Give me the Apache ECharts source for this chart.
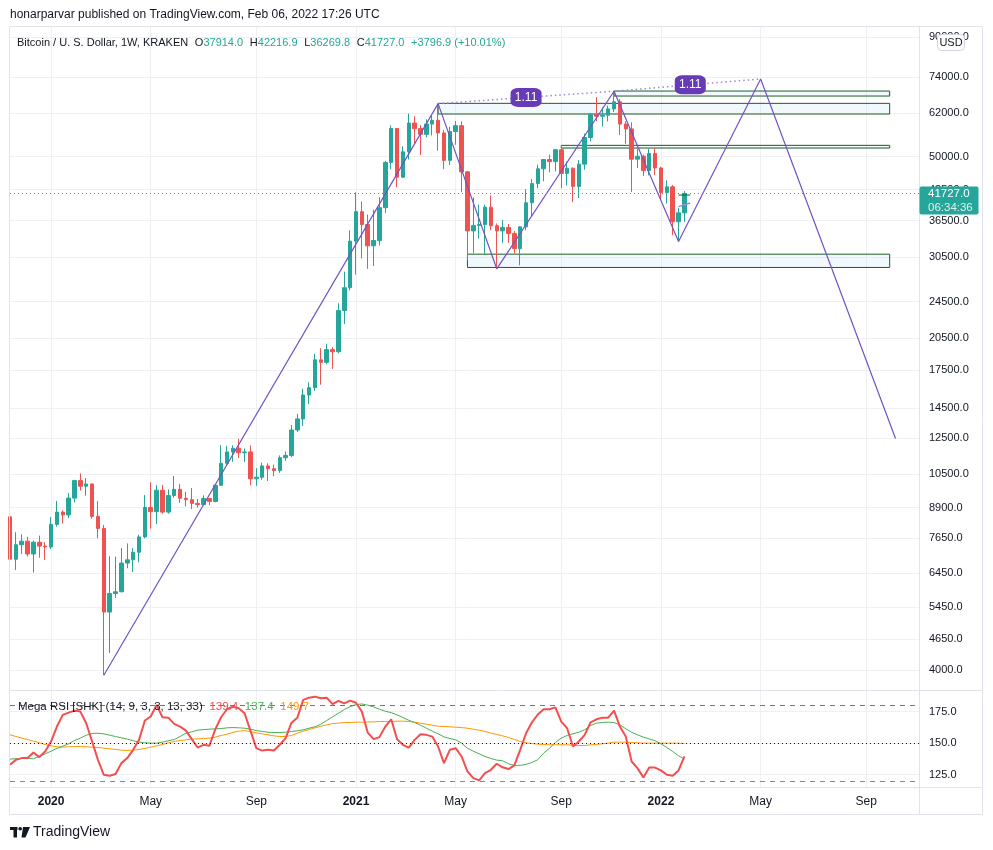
<!DOCTYPE html>
<html>
<head>
<meta charset="utf-8">
<script src="https://cdn.jsdelivr.net/npm/echarts@6/dist/echarts.min.js"></script>
<style>
html, body { margin: 0; padding: 0; background: #fff; }
#chart { width: 993px; height: 850px; }
</style>
</head>
<body>
<div id="chart"></div>
<script>
// weekly bars, Monday open, plus empty weeks on the right for the projection
const firstWeek = Date.UTC(2019, 10, 18);
const weekCount = 156;
const weeks = [];
for (let i = 0; i < weekCount; i++) {
  weeks.push(new Date(firstWeek + i * 7 * 864e5).toISOString().slice(0, 10));
}

const opens = [8500, 6900, 7410, 7540, 7080, 7500, 7360, 7330, 8190, 8700,
  8580, 9320, 10160, 9880, 9990, 8520, 8030, 5320, 5830, 5880,
  6770, 6880, 7140, 7700, 8900, 8720, 9690, 8700, 9440, 9730,
  9310, 9250, 9080, 9030, 9300, 9170, 9930, 11060, 11700, 11910,
  11650, 11700, 10250, 10330, 10920, 10770, 10670, 11370, 11500, 13030,
  13760, 15480, 16050, 18400, 18180, 19350, 19150, 23460, 26240, 33000,
  38150, 35800, 32250, 33100, 38900, 48600, 57450, 45200, 51200, 59000,
  57400, 55800, 58700, 59800, 56200, 49100, 56600, 58250, 46400, 34700,
  35650, 35800, 39000, 35600, 34700, 35300, 34250, 31800, 35400, 39850,
  43800, 47100, 49300, 48800, 51750, 46050, 47250, 43200, 48200, 54950,
  61500, 61000, 61300, 63250, 65500, 58700, 57300, 49400, 50100, 46700,
  50800, 47300, 41900, 43100, 36300, 37914];
const highs = [8600, 7880, 7800, 7700, 7560, 7750, 7500, 8490, 9190, 8780,
  9550, 10200, 10520, 10290, 10020, 9190, 8170, 7000, 6990, 7290,
  7460, 7290, 7780, 9460, 10080, 9950, 9950, 9730, 10390, 10000,
  9620, 9800, 9280, 9450, 9330, 9950, 12100, 12050, 12080, 12480,
  11900, 12080, 10800, 11100, 11060, 10990, 11500, 11720, 13350, 14100,
  15970, 16480, 18950, 19480, 19920, 19600, 24300, 28400, 34800, 41950,
  40100, 37600, 38500, 40950, 49000, 58350, 57500, 52600, 61800, 61000,
  58400, 60100, 61200, 64900, 57000, 57900, 59600, 59500, 46600, 40900,
  39500, 39500, 41300, 36000, 36600, 35900, 34700, 35500, 42600, 44800,
  48100, 49400, 50500, 51900, 52900, 48800, 47400, 49200, 56000, 62000,
  67000, 63700, 64300, 69000, 66400, 59500, 59200, 51900, 50500, 51900,
  52100, 47600, 44500, 43500, 38900, 42216.9];
const lows = [6790, 6540, 7080, 7000, 6460, 6950, 6880, 7250, 8100, 8220,
  8450, 9130, 9670, 9430, 8420, 7650, 3900, 4350, 5700, 5860,
  6600, 6480, 6800, 7650, 8020, 8200, 8630, 8630, 9340, 9100,
  8950, 8830, 8900, 9000, 9000, 9130, 9900, 10950, 11150, 11350,
  11130, 9930, 9900, 10200, 10140, 10380, 10550, 11200, 11400, 12900,
  13300, 14800, 15800, 16280, 18000, 17600, 19000, 21960, 25900, 28000,
  30300, 28800, 29200, 32300, 37900, 47000, 43000, 45000, 49300, 53200,
  50400, 55000, 55500, 51500, 47000, 48000, 53000, 42000, 30000, 31100,
  33400, 31000, 34800, 28800, 32700, 32700, 31100, 29300, 34800, 37300,
  42800, 44300, 46300, 46500, 42800, 43400, 40000, 40800, 46900, 53900,
  59600, 58000, 59500, 62300, 55600, 53300, 42000, 47300, 45500, 45600,
  45700, 40500, 39700, 34000, 32950, 36269.8];
const closes = [6900, 7410, 7540, 7080, 7500, 7360, 7330, 8190, 8700, 8580,
  9320, 10160, 9880, 9990, 8520, 8030, 5320, 5830, 5880, 6770,
  6880, 7140, 7700, 8900, 8720, 9690, 8700, 9440, 9730, 9310,
  9250, 9080, 9030, 9300, 9170, 9930, 11060, 11700, 11910, 11650,
  11700, 10250, 10330, 10920, 10770, 10670, 11370, 11500, 13030, 13760,
  15480, 16050, 18400, 18180, 19350, 19150, 23460, 26240, 33000, 38150,
  35800, 32250, 33100, 38900, 48600, 57450, 45200, 51200, 59000, 57400,
  55800, 58700, 59800, 56200, 49100, 56600, 58250, 46400, 34700, 35650,
  35800, 39000, 35600, 34700, 35300, 34250, 31800, 35400, 39850, 43800,
  47100, 49300, 48800, 51750, 46050, 47250, 43200, 48200, 54950, 61500,
  61000, 61300, 63250, 65500, 58700, 57300, 49400, 50100, 46700, 50800,
  47300, 41900, 43100, 36300, 37930.1, 41727];

const rsiRed = [132.8, 136.7, 138.1, 138.1, 142.5, 138.9, 143.3, 151.3, 163.2, 172.5,
  174.3, 175.9, 175.1, 165.8, 151.3, 136.7, 124.8, 124.1, 125.4, 134.1,
  138.1, 144.7, 152.6, 168.0, 171.2, 180.4, 170.6, 170.3, 165.3, 163.2,
  160.0, 153.2, 146.5, 148.7, 147.9, 161.0, 170.6, 177.0, 179.0, 177.8,
  173.8, 160.0, 146.0, 144.1, 144.7, 144.1, 148.7, 154.0, 166.3, 170.3,
  184.4, 186.2, 187.0, 185.7, 186.2, 181.0, 183.6, 181.7, 183.8, 182.2,
  175.1, 158.4, 153.2, 154.8, 163.2, 169.0, 153.2, 148.7, 146.5, 152.6,
  157.1, 156.6, 155.2, 147.3, 134.1, 144.7, 146.0, 139.4, 127.5, 122.2,
  120.4, 126.2, 128.8, 133.6, 130.8, 129.4, 132.3, 144.7, 157.9, 166.6,
  172.8, 177.0, 177.0, 178.5, 167.1, 161.9, 147.3, 151.3, 156.6, 166.6,
  169.0, 170.3, 170.3, 175.9, 163.2, 155.2, 135.4, 130.1, 122.7, 130.6,
  130.6, 128.3, 124.8, 124.1, 128.3, 139.4];
const rsiGreen = [137.3, 137.6, 137.8, 137.8, 137.6, 139.4, 141.5, 143.6, 145.8, 147.6,
  149.5, 152.1, 154.0, 156.3, 157.7, 157.9, 157.4, 156.3, 155.3, 154.2,
  153.2, 151.9, 150.8, 150.3, 150.0, 150.0, 150.8, 151.9, 152.9, 155.3,
  157.9, 159.0, 160.3, 160.8, 161.1, 161.4, 161.6, 162.2, 162.4, 162.2,
  161.9, 161.1, 160.0, 159.3, 158.7, 158.5, 158.5, 158.7, 159.3, 159.8,
  160.6, 161.9, 163.0, 165.1, 168.0, 170.9, 173.8, 176.7, 179.1, 180.7,
  181.2, 180.2, 178.8, 177.0, 175.4, 174.3, 172.5, 170.4, 168.2, 166.4,
  164.3, 161.9, 159.5, 157.4, 155.0, 153.7, 152.6, 150.0, 146.0, 143.6,
  141.5, 139.4, 137.8, 136.5, 136.0, 133.6, 132.3, 132.3, 133.1, 134.6,
  136.8, 142.1, 146.0, 150.5, 154.0, 156.1, 157.4, 158.7, 160.6, 164.0,
  165.9, 166.4, 166.7, 166.4, 164.5, 161.4, 158.7, 156.6, 154.8, 153.4,
  151.9, 149.5, 146.6, 143.4, 139.9, 137.4];
const rsiOrange = [156.6, 155.3, 154.0, 152.9, 151.6, 150.3, 148.9, 147.9, 147.1, 146.8,
  147.1, 147.3, 147.3, 147.1, 146.8, 146.6, 146.0, 145.5, 145.0, 144.4,
  144.2, 144.4, 145.0, 145.8, 146.8, 147.9, 148.9, 150.3, 151.3, 152.1,
  152.6, 153.2, 153.4, 153.7, 154.0, 154.8, 156.1, 157.1, 158.5, 159.5,
  160.0, 159.3, 158.2, 157.4, 156.6, 155.8, 155.3, 155.3, 156.1, 157.9,
  159.5, 160.8, 162.2, 163.5, 164.5, 165.6, 165.9, 166.4, 166.4, 166.7,
  166.7, 166.9, 166.9, 167.2, 167.2, 167.2, 167.5, 167.5, 167.2, 166.7,
  165.9, 165.1, 164.3, 163.5, 163.2, 163.0, 162.7, 162.4, 161.9, 161.1,
  160.3, 159.3, 158.0, 156.9, 155.8, 154.5, 152.9, 151.3, 150.3, 149.7,
  149.2, 148.9, 148.7, 148.7, 148.7, 148.7, 148.4, 148.1, 148.1, 148.7,
  148.9, 149.5, 150.0, 150.8, 150.8, 150.8, 150.5, 150.3, 150.0, 150.0,
  150.0, 150.0, 150.0, 150.0, 150.0, 149.7];
const rsiUpper = 180;
const rsiMiddle = 150;
const rsiLower = 120;

const priceTicks = [4000, 4650, 5450, 6450, 7650, 8900, 10500, 12500, 14500, 17500,
  20500, 24500, 30500, 36500, 42500, 50000, 62000, 74000, 90000];
const rsiTicks = [125, 150, 175];
const priceRange = [3626, 95100];
const rsiRange = [115.1, 191.5];

// drawings (week index, price)
const zigzagIdx = [16, 73, 83, 103, 114, 128, 151];
const zigzagPrice = [3900, 64900, 28800, 69000, 32950, 73300, 12500];
const peakIdx = [73, 103, 128];
const peakPrice = [64900, 69000, 73300];
const ratioIdx = [88, 116];
const ratioPrice = [66900, 71200];
const ratioText = ['1.11', '1.11'];
// [from week, to week, top price, bottom price]
const zones = [
  [103, 150, 69060, 67380],
  [73, 150, 65000, 61680],
  [94, 150, 52870, 52170],
  [78, 150, 30950, 28990]
];
const markIdx = [114, 116];
const markPrice = [41400, 41400];
const tinyIdx = [114, 116];
const tinyPrice = [39100, 39800];

const FONT = '"Liberation Sans", Arial, sans-serif';
const TXT = '#131722';
const GRID = '#eef0f4';
const UP = '#26a69a';
const DOWN = '#ef5350';
const PURPLE = '#7352c7';

const lg = v => Math.log10(v);
const last = closes.length - 1;

const candles = opens.map((o, i) => [lg(o), lg(closes[i]), lg(lows[i]), lg(highs[i])]);
const pairs = (xs, ps) => xs.map((x, i) => [x, lg(ps[i])]);

const monthNames = ['Jan', 'Feb', 'Mar', 'Apr', 'May', 'Jun', 'Jul', 'Aug', 'Sep', 'Oct', 'Nov', 'Dec'];
const isMark = (i, v) => {
  const d = new Date(v + 'T00:00:00Z');
  return d.getUTCDate() <= 7 && d.getUTCMonth() % 4 === 0;
};
const fmtWeek = v => {
  const d = new Date(v + 'T00:00:00Z');
  return d.getUTCMonth() === 0 ? '{y|' + d.getUTCFullYear() + '}' : monthNames[d.getUTCMonth()];
};

const level = (val, color, type) => ({
  silent: true, symbol: ['none', 'none'], label: { show: false },
  lineStyle: { color: color, type: type, width: 1, opacity: 1 },
  data: [{ yAxis: val }]
});

const chart = echarts.init(document.getElementById('chart'), null, { renderer: 'canvas' });

const option = {
  animation: false,
  backgroundColor: '#fff',
  textStyle: { fontFamily: FONT },
  grid: [
    { left: 10, right: 74, top: 26, height: 664 },
    { left: 10, right: 74, top: 691, height: 96 }
  ],
  xAxis: [
    {
      type: 'category', gridIndex: 0, data: weeks, boundaryGap: false,
      axisLine: { show: false }, axisTick: { show: false }, axisLabel: { show: false },
      splitLine: { show: true, interval: isMark, lineStyle: { color: GRID } }
    },
    {
      type: 'category', gridIndex: 1, data: weeks, boundaryGap: false,
      axisLine: { show: false }, axisTick: { show: false },
      axisLabel: {
        interval: isMark, formatter: fmtWeek, color: TXT, fontSize: 12, margin: 9,
        fontFamily: FONT, rich: { y: { fontWeight: 'bold', fontSize: 12, color: TXT, fontFamily: FONT } }
      },
      splitLine: { show: true, interval: isMark, lineStyle: { color: GRID } }
    }
  ],
  yAxis: [
    {
      type: 'value', gridIndex: 0, position: 'right',
      min: lg(priceRange[0]), max: lg(priceRange[1]),
      axisLine: { show: false },
      axisTick: { show: false, customValues: priceTicks.map(lg) },
      axisLabel: {
        customValues: priceTicks.map(lg),
        formatter: v => Math.round(Math.pow(10, v)).toFixed(1),
        color: TXT, fontSize: 11, margin: 10, fontFamily: FONT
      },
      splitLine: { show: true, lineStyle: { color: GRID } }
    },
    {
      type: 'value', gridIndex: 1, position: 'right',
      min: rsiRange[0], max: rsiRange[1],
      axisLine: { show: false },
      axisTick: { show: false, customValues: rsiTicks },
      axisLabel: {
        customValues: rsiTicks, formatter: v => v.toFixed(1),
        color: TXT, fontSize: 11, margin: 10, fontFamily: FONT
      },
      splitLine: { show: true, lineStyle: { color: GRID } }
    }
  ],
  series: [
    {
      type: 'candlestick', xAxisIndex: 0, yAxisIndex: 0, data: candles,
      barWidth: 4, z: 2,
      itemStyle: { color: UP, color0: DOWN, borderColor: UP, borderColor0: DOWN, borderWidth: 1 },
      markLine: level(lg(closes[last]), UP, [1, 3])
    },
    {
      type: 'line', xAxisIndex: 0, yAxisIndex: 0, data: pairs(zigzagIdx, zigzagPrice),
      symbol: 'none', z: 4, silent: true,
      lineStyle: { color: PURPLE, width: 1.2 }
    },
    {
      type: 'line', xAxisIndex: 0, yAxisIndex: 0, data: pairs(peakIdx, peakPrice),
      symbol: 'none', z: 3, silent: true,
      lineStyle: { color: '#9d86dd', width: 1.5, type: [1.5, 3] },
      markArea: {
        silent: true,
        itemStyle: { color: 'rgba(33,150,243,0.06)', borderColor: '#1b5e20', borderWidth: 1 },
        data: zones.map(z => [
          { xAxis: z[0], yAxis: lg(z[2]) },
          { xAxis: z[1], yAxis: lg(z[3]) }
        ])
      }
    },
    {
      type: 'line', xAxisIndex: 0, yAxisIndex: 0, data: pairs(markIdx, markPrice),
      symbol: 'none', z: 4, silent: true,
      lineStyle: { color: '#1b5e20', width: 1 }
    },
    {
      type: 'line', xAxisIndex: 0, yAxisIndex: 0, data: pairs(tinyIdx, tinyPrice),
      symbol: 'none', z: 4, silent: true,
      lineStyle: { color: '#9d86dd', width: 1.5 }
    },
    {
      type: 'scatter', xAxisIndex: 0, yAxisIndex: 0, z: 6, silent: true,
      data: ratioIdx.map((x, i) => ({ value: [x, lg(ratioPrice[i])], name: ratioText[i] })),
      symbol: 'roundRect', symbolSize: [31, 19],
      itemStyle: { color: '#673ab7', opacity: 1 },
      label: { show: true, position: 'inside', formatter: p => p.name, color: '#fff', fontSize: 12, fontFamily: FONT }
    },
    {
      type: 'line', xAxisIndex: 1, yAxisIndex: 1, data: rsiOrange,
      symbol: 'none', silent: true, lineStyle: { color: '#ff9800', width: 1 },
      markLine: level(rsiMiddle, '#131722', [1, 3])
    },
    {
      type: 'line', xAxisIndex: 1, yAxisIndex: 1, data: rsiGreen,
      symbol: 'none', silent: true, lineStyle: { color: '#4caf50', width: 1 },
      markLine: level(rsiLower, '#4caf50', [5, 5])
    },
    {
      type: 'line', xAxisIndex: 1, yAxisIndex: 1, data: rsiRed,
      symbol: 'none', silent: true, lineStyle: { color: '#f44e4e', width: 2 },
      markLine: level(rsiUpper, '#f44336', [5, 5])
    }
  ]
};

chart.setOption(option);

const yPrice = chart.convertToPixel({ yAxisIndex: 0 }, lg(closes[last]));
const chg = closes[last] - closes[last - 1];
const pct = chg / closes[last - 1] * 100;
const ohlcText = '{n|Bitcoin / U. S. Dollar, 1W, KRAKEN}  {n|O}{v|' + opens[last].toFixed(1) +
  '}  {n|H}{v|' + highs[last].toFixed(1) + '}  {n|L}{v|' + lows[last].toFixed(1) +
  '}  {n|C}{v|' + closes[last].toFixed(1) + '}  {v|+' + chg.toFixed(1) + ' (+' + pct.toFixed(2) + '%)}';
const rsiText = '{n|Mega RSI [SHK] (14, 9, 3, 3, 13, 33)}  {r|' + rsiRed[last].toFixed(1) +
  '}  {g|' + rsiGreen[last].toFixed(1) + '}  {o|' + rsiOrange[last].toFixed(1) + '}';
const border = '#e0e3eb';

chart.setOption({
  graphic: { elements: [
    { type: 'rect', silent: true, z: 50, shape: { x: 9.5, y: 26.5, width: 973, height: 788 }, style: { fill: 'none', stroke: border, lineWidth: 1 } },
    { type: 'line', silent: true, z: 50, shape: { x1: 919.5, y1: 26, x2: 919.5, y2: 815 }, style: { stroke: border, lineWidth: 1 } },
    { type: 'line', silent: true, z: 50, shape: { x1: 10, y1: 690.5, x2: 983, y2: 690.5 }, style: { stroke: border, lineWidth: 1 } },
    { type: 'line', silent: true, z: 50, shape: { x1: 10, y1: 787.5, x2: 983, y2: 787.5 }, style: { stroke: border, lineWidth: 1 } },
    { type: 'text', silent: true, z: 60, style: { x: 10, y: 14.5, text: 'honarparvar published on TradingView.com, Feb 06, 2022 17:26 UTC', fill: TXT, font: '12px ' + FONT, verticalAlign: 'middle' } },
    { type: 'text', silent: true, z: 60, style: { x: 17, y: 42.5, text: ohlcText, verticalAlign: 'middle',
      rich: { n: { fill: TXT, font: '11px ' + FONT }, v: { fill: UP, font: '11px ' + FONT } } } },
    { type: 'text', silent: true, z: 60, style: { x: 18, y: 706.5, text: rsiText, verticalAlign: 'middle',
      rich: { n: { fill: TXT, font: '11.5px ' + FONT }, r: { fill: '#f44e4e', font: '11.5px ' + FONT }, g: { fill: '#4caf50', font: '11.5px ' + FONT }, o: { fill: '#ff9800', font: '11.5px ' + FONT } } } },
    { type: 'rect', silent: true, z: 70, shape: { x: 919.5, y: yPrice - 7, width: 59, height: 28, r: 2 }, style: { fill: UP } },
    { type: 'text', silent: true, z: 71, style: { x: 928, y: yPrice, text: closes[last].toFixed(1), fill: '#fff', font: '11.5px ' + FONT, verticalAlign: 'middle' } },
    { type: 'text', silent: true, z: 71, style: { x: 928, y: yPrice + 14, text: '06:34:36', fill: 'rgba(255,255,255,0.85)', font: '11.5px ' + FONT, verticalAlign: 'middle' } },
    { type: 'rect', silent: true, z: 70, shape: { x: 937.5, y: 34.5, width: 27, height: 16, r: 4 }, style: { fill: '#fff', stroke: '#d1d4dc', lineWidth: 1 } },
    { type: 'text', silent: true, z: 71, style: { x: 951, y: 42.5, text: 'USD', fill: TXT, font: '11px ' + FONT, align: 'center', verticalAlign: 'middle' } },
    { type: 'rect', silent: true, z: 60, shape: { x: 10, y: 827, width: 7.5, height: 3 }, style: { fill: TXT } },
    { type: 'rect', silent: true, z: 60, shape: { x: 13.5, y: 827, width: 3.5, height: 10.5 }, style: { fill: TXT } },
    { type: 'circle', silent: true, z: 60, shape: { cx: 20.2, cy: 828.7, r: 1.8 }, style: { fill: TXT } },
    { type: 'polygon', silent: true, z: 60, shape: { points: [[23, 827], [30, 827], [25.5, 837.5], [21.5, 837.5]] }, style: { fill: TXT } },
    { type: 'text', silent: true, z: 60, style: { x: 33, y: 832, text: 'TradingView', fill: TXT, font: '14px ' + FONT, verticalAlign: 'middle' } }
  ] }
});
</script>
</body>
</html>
